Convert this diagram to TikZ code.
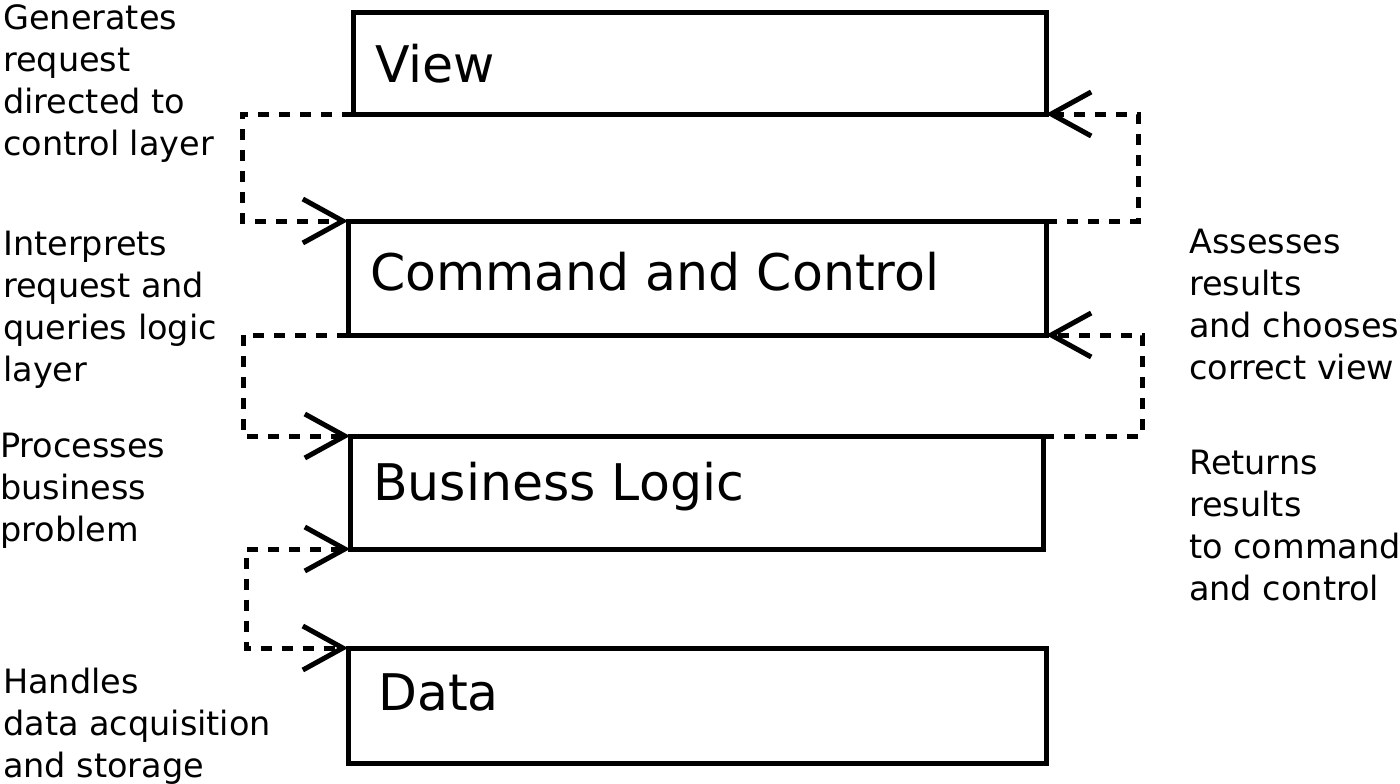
\documentclass[tikz,border=0pt]{standalone}
\usepackage{fontspec}
\setmainfont{DejaVu Sans}
\usetikzlibrary{arrows.meta}
\begin{document}
\begin{tikzpicture}[x=1pt,y=-1pt,
  layerbox/.style={draw=black, line width=5pt, rectangle, outer sep=0pt, inner sep=0pt, anchor=north west},
  boxlabel/.style={anchor=base west, inner sep=0pt, font=\fontsize{50.5}{60}\selectfont, text=black},
  sidetext/.style={anchor=north west, inner sep=0pt, align=left, font=\fontsize{33.5}{42}\selectfont, text=black},
  conn/.style={draw=black, line width=5pt, dash pattern=on 11pt off 10pt, -{Straight Barb[length=40pt, width=44pt]}},
]
\useasboundingbox (0,0) rectangle (1400,784);
% layer boxes
\node[layerbox, minimum width=693pt, minimum height=101pt] (view) at (353,13) {};
\node[layerbox, minimum width=698pt, minimum height=114pt] (cmd) at (348,221) {};
\node[layerbox, minimum width=693pt, minimum height=113pt] (bl) at (350,436) {};
\node[layerbox, minimum width=698pt, minimum height=115pt] (data) at (348,648) {};
% labels
\node[boxlabel] (viewlbl) at (375,82) {View};
\node[boxlabel] (cmdlbl) at (370,290) {Command and Control};
\node[boxlabel] (bllbl) at (373,500) {Business Logic};
\node[boxlabel] (datalbl) at (378,710) {Data};
% side texts
\node[sidetext] (t1) at (3,4) {Generates\\request\\directed to\\control layer};
\node[sidetext] (t2) at (3,231) {Interprets\\request and\\queries logic\\layer};
\node[sidetext] (t3) at (0,433) {Processes\\business\\problem};
\node[sidetext] (t4) at (3,668) {Handles\\data acquisition\\and storage};
\node[sidetext] (t5) at (1189,229) {Assesses\\results\\and chooses\\correct view};
\node[sidetext] (t6) at (1189,450) {Returns\\results\\to command\\and control};
% connectors
\draw[conn] (view.south west) -- ++(-111,0) |- (cmd.north west);
\draw[conn] (cmd.north east) -- ++(92,0) |- (view.south east);
\draw[conn] (cmd.south west) -- ++(-105,0) |- (bl.north west);
\draw[conn] (bl.north east) -- ++(99,0) |- (cmd.south east);
\draw[conn, {Straight Barb[length=40pt, width=44pt]}-{Straight Barb[length=40pt, width=44pt]}] (bl.south west) -- ++(-104,0) |- (data.north west);
\end{tikzpicture}
\end{document}
